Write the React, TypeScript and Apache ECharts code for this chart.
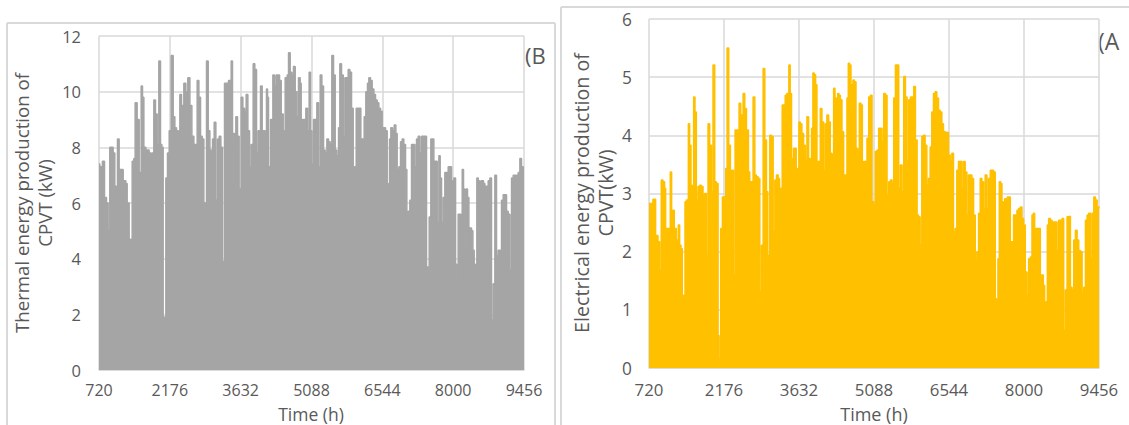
import React, { useEffect, useRef } from "react";
import * as echarts from "echarts";

const xTickLabels = ["720", "2176", "3632", "5088", "6544", "8000", "9456"];
const X_START = 720;
const X_STEP = 1456;

const thermalHours = [
  720, 737, 791, 833, 874, 908, 942, 977, 1011, 1045, 1066, 1100, 1134, 1182, 1217, 1237, 1271, 1299, 1340, 1367,
  1402, 1436, 1463, 1504, 1546, 1587, 1614, 1642, 1683, 1710, 1751, 1785, 1806, 1847, 1881, 1916, 1950, 1984, 2012, 2039,
  2067, 2094, 2128, 2163, 2204, 2245, 2279, 2313, 2354, 2382, 2416, 2464, 2505, 2546, 2588, 2629, 2670, 2711, 2738, 2773,
  2807, 2841, 2875, 2896, 2930, 2965, 2999, 3026, 3054, 3088, 3122, 3157, 3191, 3225, 3259, 3300, 3348, 3382, 3437, 3464,
  3505, 3533, 3567, 3601, 3642, 3677, 3711, 3745, 3780, 3814, 3848, 3889, 3923, 3958, 3992, 4040, 4074, 4108, 4136, 4163,
  4184, 4204, 4246, 4273, 4294, 4328, 4362, 4396, 4431, 4465, 4506, 4547, 4588, 4616, 4650, 4684, 4718, 4753, 4787, 4821,
  4855, 4876, 4903, 4945, 4972, 5006, 5040, 5068, 5095, 5130, 5164, 5198, 5232, 5267, 5301, 5335, 5369, 5404, 5438, 5472,
  5506, 5541, 5575, 5609, 5644, 5671, 5705, 5740, 5774, 5808, 5842, 5877, 5911, 5945, 5973, 6007, 6082, 6102, 6130, 6171,
  6205, 6239, 6267, 6301, 6335, 6370, 6404, 6438, 6472, 6507, 6541, 6575, 6610, 6644, 6664, 6692, 6719, 6753, 6788, 6822,
  6849, 6884, 6918, 6952, 6986, 7021, 7048, 7075, 7110, 7144, 7178, 7213, 7247, 7281, 7315, 7350, 7384, 7418, 7452, 7487,
  7507, 7541, 7569, 7603, 7637, 7672, 7706, 7733, 7761, 7795, 7829, 7864, 7898, 7932, 7966, 7987, 8014, 8049, 8076, 8103,
  8131, 8158, 8186, 8213, 8240, 8268, 8295, 8323, 8350, 8378, 8405, 8432, 8460, 8487, 8515, 8542, 8569, 8597, 8624, 8652,
  8686, 8720, 8754, 8788, 8823, 8857, 8891, 8926, 8960, 8994, 9028, 9063, 9097, 9131, 9166, 9200, 9234, 9268, 9303, 9337,
  9371, 9405, 9440, 9456,
];
const thermalValues = [
  7.4, 7.3, 7.5, 6.2, 6.0, 5.0, 8.0, 8.0, 7.8, 6.3, 6.6, 8.3, 7.2, 7.2, 6.3, 6.8, 6.7, 6.0, 2.3, 4.7,
  7.5, 7.6, 9.6, 9.0, 7.1, 10.2, 9.8, 8.0, 7.9, 7.9, 7.8, 5.7, 7.8, 9.7, 9.2, 8.1, 11.1, 8.1, 8.0, 1.9,
  0.3, 6.9, 7.8, 8.6, 11.3, 9.1, 8.7, 8.6, 4.9, 9.9, 9.5, 10.3, 10.0, 10.5, 9.5, 8.4, 8.1, 8.1, 10.4, 9.8,
  8.4, 8.3, 4.1, 6.0, 11.1, 8.6, 7.9, 5.7, 8.3, 8.9, 6.1, 8.3, 8.4, 8.0, 3.9, 10.3, 10.3, 10.4, 11.1, 8.5,
  8.4, 9.1, 8.4, 6.5, 9.8, 9.4, 9.3, 9.9, 8.6, 7.3, 8.1, 11.0, 10.8, 7.8, 8.6, 10.2, 8.6, 8.6, 7.8, 10.1,
  9.8, 7.3, 9.0, 8.9, 10.6, 10.2, 10.6, 10.6, 10.4, 9.2, 8.6, 10.5, 10.6, 11.4, 10.7, 10.6, 10.9, 10.0, 9.1, 10.5,
  10.3, 4.1, 9.0, 9.0, 9.4, 8.6, 10.7, 8.6, 7.4, 9.0, 9.0, 9.6, 7.3, 10.6, 10.2, 7.9, 7.8, 8.3, 8.2, 8.1,
  11.3, 10.6, 7.9, 7.7, 8.7, 11.0, 10.6, 8.4, 10.5, 10.5, 10.8, 10.7, 9.4, 6.1, 7.3, 9.4, 9.4, 8.3, 8.3, 9.1,
  10.0, 10.3, 10.5, 10.4, 10.1, 9.9, 9.7, 9.6, 9.4, 9.3, 8.7, 8.7, 8.6, 6.7, 5.3, 8.3, 8.7, 8.6, 8.8, 8.5,
  7.2, 7.3, 8.2, 8.3, 8.1, 7.2, 5.4, 5.7, 6.1, 8.1, 8.1, 7.3, 8.3, 8.4, 7.8, 8.4, 8.4, 8.4, 3.7, 1.0,
  5.5, 8.3, 8.3, 7.5, 7.5, 5.3, 7.7, 6.9, 5.3, 6.2, 7.1, 7.1, 7.3, 7.3, 6.8, 6.6, 6.9, 3.8, 3.3, 5.6,
  5.6, 5.0, 7.2, 6.5, 4.3, 6.5, 6.2, 5.1, 5.1, 5.0, 4.3, 2.3, 3.8, 6.9, 6.8, 6.6, 6.8, 6.8, 6.7, 6.6,
  6.6, 6.8, 6.9, 1.8, 3.1, 7.0, 4.1, 4.3, 4.3, 6.1, 6.3, 6.3, 5.7, 5.6, 3.6, 6.9, 7.0, 7.0, 7.0, 7.1,
  7.6, 7.3, 7.2, 7.2,
];

const electricHours = [
  720, 796, 848, 894, 926, 958, 991, 1023, 1043, 1108, 1133, 1159, 1185, 1211, 1250, 1289, 1315, 1341, 1367, 1393,
  1419, 1445, 1484, 1509, 1535, 1561, 1587, 1613, 1639, 1672, 1704, 1736, 1769, 1801, 1834, 1866, 1898, 1931, 1963, 1996,
  2028, 2061, 2080, 2112, 2145, 2177, 2210, 2236, 2268, 2300, 2326, 2359, 2391, 2430, 2469, 2501, 2547, 2579, 2612, 2650,
  2676, 2709, 2741, 2774, 2806, 2838, 2871, 2903, 2936, 2968, 3000, 3026, 3065, 3098, 3130, 3163, 3195, 3227, 3254, 3280,
  3306, 3332, 3364, 3396, 3435, 3461, 3487, 3526, 3552, 3578, 3604, 3630, 3656, 3688, 3721, 3753, 3786, 3818, 3850, 3876,
  3902, 3928, 3954, 3980, 4012, 4045, 4077, 4110, 4142, 4174, 4207, 4239, 4272, 4304, 4330, 4356, 4382, 4408, 4434, 4466,
  4499, 4531, 4563, 4589, 4615, 4641, 4680, 4706, 4738, 4771, 4803, 4836, 4862, 4888, 4920, 4952, 4985, 5017, 5050, 5082,
  5114, 5147, 5179, 5212, 5244, 5277, 5309, 5341, 5374, 5406, 5439, 5471, 5504, 5536, 5568, 5601, 5633, 5666, 5698, 5730,
  5763, 5795, 5828, 5860, 5892, 5925, 5951, 5983, 6016, 6048, 6080, 6113, 6145, 6178, 6210, 6243, 6275, 6307, 6340, 6372,
  6405, 6437, 6469, 6502, 6534, 6567, 6599, 6631, 6664, 6696, 6728, 6761, 6794, 6826, 6858, 6891, 6923, 6956, 6988, 7021,
  7053, 7085, 7118, 7150, 7183, 7215, 7247, 7280, 7312, 7345, 7377, 7410, 7442, 7468, 7494, 7520, 7546, 7572, 7598, 7624,
  7649, 7675, 7701, 7734, 7766, 7798, 7831, 7863, 7896, 7928, 7961, 7993, 8025, 8058, 8090, 8123, 8155, 8181, 8207, 8233,
  8259, 8285, 8317, 8350, 8376, 8401, 8427, 8453, 8479, 8512, 8544, 8577, 8609, 8641, 8674, 8706, 8739, 8771, 8804, 8836,
  8868, 8901, 8933, 8966, 8998, 9031, 9063, 9095, 9128, 9160, 9193, 9225, 9257, 9290, 9322, 9355, 9387, 9420, 9456,
];
const electricValues = [
  2.83, 2.9, 2.28, 2.17, 1.68, 3.23, 3.2, 3.09, 2.4, 2.4, 3.37, 2.68, 2.71, 2.4, 2.2, 2.46, 2.11, 2.05, 0.79, 1.25,
  2.86, 2.89, 4.2, 3.83, 3.14, 2.89, 4.66, 4.4, 2.89, 3.12, 3.14, 3.12, 2.97, 3.0, 1.94, 4.2, 3.83, 3.03, 5.21, 3.2,
  3.17, 0.56, 0.16, 2.4, 2.94, 2.94, 3.43, 5.5, 3.83, 3.37, 3.4, 1.6, 4.09, 4.09, 4.55, 4.35, 4.72, 4.46, 4.09, 3.37,
  3.2, 3.2, 4.66, 3.32, 3.29, 3.26, 1.31, 2.11, 5.15, 3.92, 3.03, 1.94, 4.0, 3.98, 2.34, 3.23, 3.32, 3.26, 3.09, 2.4,
  4.52, 4.52, 4.69, 4.72, 5.21, 4.72, 3.6, 3.78, 3.78, 3.43, 2.28, 4.23, 4.2, 4.03, 3.83, 3.57, 4.32, 3.6, 2.74, 4.12,
  5.07, 5.04, 4.87, 3.55, 3.55, 4.46, 4.23, 3.4, 4.2, 4.35, 4.23, 3.69, 3.66, 4.81, 4.64, 4.12, 4.72, 4.69, 4.61, 4.06,
  3.32, 3.32, 4.64, 5.24, 5.21, 4.87, 4.95, 4.92, 3.78, 3.72, 4.55, 4.52, 1.22, 3.55, 3.55, 3.95, 4.66, 4.69, 2.86, 2.8,
  3.72, 3.75, 4.12, 4.12, 3.89, 4.72, 4.69, 2.97, 3.2, 3.23, 3.17, 4.64, 5.21, 5.21, 3.09, 3.49, 3.03, 5.01, 4.66, 3.55,
  4.61, 4.66, 4.66, 4.84, 3.92, 2.63, 2.6, 2.11, 3.98, 4.0, 3.83, 3.14, 3.26, 3.8, 4.4, 4.72, 4.75, 4.64, 4.43, 4.4,
  4.2, 4.06, 4.05, 4.05, 3.66, 3.55, 3.69, 2.34, 2.4, 3.4, 3.55, 3.55, 3.09, 3.55, 3.37, 2.63, 3.32, 3.32, 3.26, 2.63,
  1.85, 2.0, 2.66, 3.26, 3.2, 2.74, 3.32, 2.74, 3.26, 3.4, 3.4, 3.37, 1.19, 0.39, 1.88, 3.2, 3.17, 2.86, 2.8, 2.91,
  2.57, 2.94, 2.94, 2.17, 2.17, 2.63, 2.63, 2.71, 2.74, 2.77, 2.57, 2.46, 1.65, 1.25, 1.88, 1.91, 2.63, 2.66, 1.94, 2.4,
  2.4, 2.4, 1.6, 1.6, 1.42, 0.68, 1.14, 2.46, 2.57, 2.54, 2.51, 2.51, 2.51, 2.02, 2.54, 2.54, 2.57, 0.65, 1.34, 2.6,
  2.61, 1.39, 1.34, 2.2, 2.37, 2.2, 2.02, 2.0, 1.28, 1.39, 2.54, 2.63, 2.66, 1.88, 2.66, 2.94, 2.89, 2.77, 2.74,
];

const GRID_COLOR = "#d9d9d9";
const TEXT_COLOR = "#595959";
const FONT = '"Open Sans", "Noto Sans", sans-serif';

function pairs(hours: number[], values: number[]) {
  return hours.map((h, i) => [h - X_START, values[i]]);
}

function xAxisFor(gridIndex: number, fontSize: number, margin: number) {
  return {
    type: "value",
    gridIndex,
    min: 0,
    max: X_STEP * 6,
    interval: X_STEP,
    axisLine: { show: true, lineStyle: { color: GRID_COLOR, width: 1.5 } },
    axisTick: { show: false },
    axisLabel: {
      color: TEXT_COLOR,
      fontSize,
      fontFamily: FONT,
      margin,
      lineHeight: fontSize,
      formatter: (v: number) => xTickLabels[Math.round(v / X_STEP)] ?? "",
    },
    splitLine: { show: true, lineStyle: { color: GRID_COLOR, width: 1.5 } },
  };
}

function yAxisFor(gridIndex: number, max: number, interval: number, fontSize: number, margin: number) {
  return {
    type: "value",
    gridIndex,
    min: 0,
    max,
    interval,
    axisLine: { show: false },
    axisTick: { show: false },
    axisLabel: { color: TEXT_COLOR, fontSize, fontFamily: FONT, margin },
    splitLine: { show: true, lineStyle: { color: GRID_COLOR, width: 1.5 } },
  };
}

export default function App() {
  const ref = useRef<HTMLDivElement>(null);

  useEffect(() => {
    if (!ref.current) return;
    const chart = echarts.init(ref.current, null, { renderer: "svg" });
    chart.setOption({
      animation: false,
      backgroundColor: "#ffffff",
      grid: [
        { left: 99, top: 36, width: 425, height: 334 },
        { left: 649, top: 19, width: 450, height: 349 },
      ],
      xAxis: [xAxisFor(0, 16, 12), xAxisFor(1, 16.8, 13)],
      yAxis: [yAxisFor(0, 12, 2, 16.5, 18), yAxisFor(1, 6, 1, 17.3, 17)],
      series: [
        {
          type: "line",
          xAxisIndex: 0,
          yAxisIndex: 0,
          data: pairs(thermalHours, thermalValues),
          step: "end",
          symbol: "none",
          lineStyle: { color: "#a5a5a5", width: 1.5 },
          areaStyle: { color: "#a5a5a5", opacity: 1 },
          z: 3,
        },
        {
          type: "line",
          xAxisIndex: 1,
          yAxisIndex: 1,
          data: pairs(electricHours, electricValues),
          step: "end",
          symbol: "none",
          lineStyle: { color: "#ffc000", width: 1.5 },
          areaStyle: { color: "#ffc000", opacity: 1 },
          z: 3,
        },
      ],
      graphic: [
        { type: "line", shape: { x1: 7, y1: 23, x2: 555, y2: 23 }, style: { stroke: GRID_COLOR, lineWidth: 2 } },
        { type: "line", shape: { x1: 7, y1: 23, x2: 7, y2: 425 }, style: { stroke: GRID_COLOR, lineWidth: 2 } },
        { type: "line", shape: { x1: 555, y1: 23, x2: 555, y2: 425 }, style: { stroke: GRID_COLOR, lineWidth: 2 } },
        { type: "line", shape: { x1: 561, y1: 7, x2: 1129, y2: 7 }, style: { stroke: GRID_COLOR, lineWidth: 2 } },
        { type: "line", shape: { x1: 561, y1: 7, x2: 561, y2: 425 }, style: { stroke: GRID_COLOR, lineWidth: 2 } },
        {
          type: "text",
          x: 33,
          y: 203,
          rotation: Math.PI / 2,
          style: {
            text: "Thermal energy production of\nCPVT (kW)",
            fontSize: 18.7,
            fontFamily: FONT,
            fill: TEXT_COLOR,
            align: "center",
            verticalAlign: "middle",
            lineHeight: 23,
          },
        },
        {
          type: "text",
          x: 593,
          y: 193,
          rotation: Math.PI / 2,
          style: {
            text: "Electrical energy production of\nCPVT(kW)",
            fontSize: 19.7,
            fontFamily: FONT,
            fill: TEXT_COLOR,
            align: "center",
            verticalAlign: "middle",
            lineHeight: 24,
          },
        },
        {
          type: "text",
          x: 311,
          y: 414,
          style: { text: "Time (h)", fontSize: 17.5, lineHeight: 17.5, fontFamily: FONT, fill: TEXT_COLOR, align: "center", verticalAlign: "middle" },
        },
        {
          type: "text",
          x: 874,
          y: 414,
          style: { text: "Time (h)", fontSize: 18, lineHeight: 18, fontFamily: FONT, fill: TEXT_COLOR, align: "center", verticalAlign: "middle" },
        },
        {
          type: "text",
          x: 525,
          y: 55,
          style: { text: "(B", fontSize: 22, fontFamily: FONT, fill: TEXT_COLOR, align: "left", verticalAlign: "middle" },
        },
        {
          type: "text",
          x: 1098,
          y: 41,
          style: { text: "(A", fontSize: 23, fontFamily: FONT, fill: TEXT_COLOR, align: "left", verticalAlign: "middle" },
        },
      ],
    });
    return () => chart.dispose();
  }, []);

  return (
    <div
      ref={ref}
      style={{ position: "fixed", left: 0, top: 0, width: 1129, height: 425, background: "#fff" }}
    />
  );
}
